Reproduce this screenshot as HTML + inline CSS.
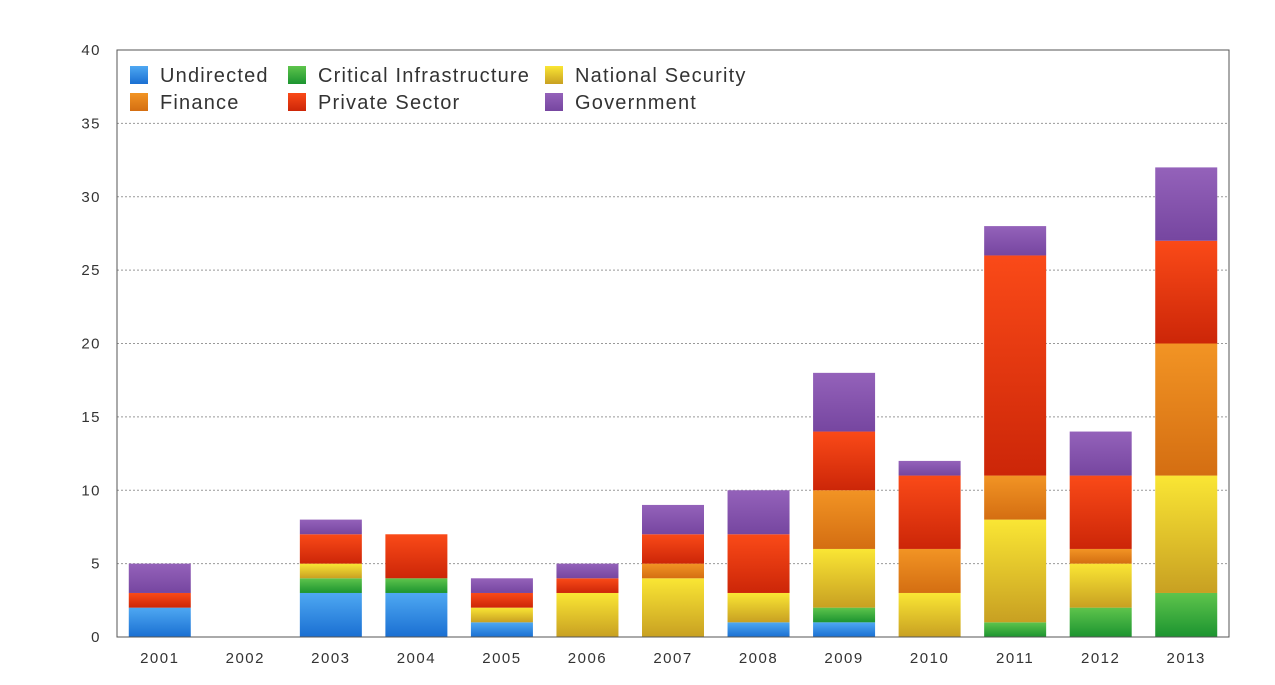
<!DOCTYPE html>
<html><head><meta charset="utf-8"><style>
html,body{margin:0;padding:0;background:#fff;}
svg{display:block;font-family:"Liberation Sans",sans-serif;}
</style></head><body>
<svg id="chart" width="1275" height="685" xmlns="http://www.w3.org/2000/svg">
<defs>
<linearGradient id="g0" x1="0" y1="0" x2="0" y2="1"><stop offset="0" stop-color="#4ea8f2"/><stop offset="1" stop-color="#1a6fd2"/></linearGradient>
<linearGradient id="g1" x1="0" y1="0" x2="0" y2="1"><stop offset="0" stop-color="#5ec44c"/><stop offset="1" stop-color="#1c9430"/></linearGradient>
<linearGradient id="g2" x1="0" y1="0" x2="0" y2="1"><stop offset="0" stop-color="#fae634"/><stop offset="1" stop-color="#c8a022"/></linearGradient>
<linearGradient id="g3" x1="0" y1="0" x2="0" y2="1"><stop offset="0" stop-color="#f29424"/><stop offset="1" stop-color="#d46e12"/></linearGradient>
<linearGradient id="g4" x1="0" y1="0" x2="0" y2="1"><stop offset="0" stop-color="#fa4a18"/><stop offset="1" stop-color="#cc2608"/></linearGradient>
<linearGradient id="g5" x1="0" y1="0" x2="0" y2="1"><stop offset="0" stop-color="#9462ba"/><stop offset="1" stop-color="#7646a0"/></linearGradient>
</defs>
<g id="grid"></g><g id="bars"></g><g id="axes"></g><g id="legend"></g>
</svg>
<script>
const years=["2001","2002","2003","2004","2005","2006","2007","2008","2009","2010","2011","2012","2013"];
const undirected=[2,0,3,3,1,0,0,1,1,0,0,0,0];
const critical=[0,0,1,1,0,0,0,0,1,0,1,2,3];
const national=[0,0,1,0,1,3,4,2,4,3,7,3,8];
const finance=[0,0,0,0,0,0,1,0,4,3,3,1,9];
const privateSector=[1,0,2,3,1,1,2,4,4,5,15,5,7];
const government=[2,0,1,0,1,1,2,3,4,1,2,3,5];
const seriesNames=["Undirected","Critical Infrastructure","National Security","Finance","Private Sector","Government"];
const yTicks=[0,5,10,15,20,25,30,35,40];

const NS="http://www.w3.org/2000/svg";
const series=[undirected,critical,national,finance,privateSector,government];
const L=117,R=1229,T=50,B=637,yMax=40;
const step=(R-L)/years.length, bw=62;
function y(v){return B-(v/yMax)*(B-T);}
function xc(i){return L+step*(i+0.5);}
function mk(tag,attrs,parent){const e=document.createElementNS(NS,tag);for(const k in attrs)e.setAttribute(k,attrs[k]);parent.appendChild(e);return e;}
const grid=document.getElementById('grid'),bars=document.getElementById('bars'),axes=document.getElementById('axes'),legend=document.getElementById('legend');

yTicks.forEach(t=>{
  if(t>0&&t<yMax){const g=mk('line',{x1:L,x2:R,y1:y(t),y2:y(t),stroke:'#999','stroke-dasharray':'2,2','stroke-width':1},grid);
  
  }
  const tx=mk('text',{x:101,y:y(t)+5,'text-anchor':'end','font-size':15,fill:'#333','letter-spacing':'1.5'},axes);
  tx.textContent=t;
  
  
});
const frame=mk('rect',{x:L,y:T,width:R-L,height:B-T,fill:'none',stroke:'#555','stroke-width':1},axes);



years.forEach((yr,i)=>{
  let acc=0;
  series.forEach((s,k)=>{
    const v=s[i]; if(!v)return;
    const r=mk('rect',{x:xc(i)-bw/2,y:y(acc+v),width:bw,height:y(acc)-y(acc+v),fill:'url(#g'+k+')'},bars);
    
    
    acc+=v;
  });
  const tx=mk('text',{x:xc(i),y:663,'text-anchor':'middle','font-size':15,fill:'#333','letter-spacing':'1.5'},axes);
  tx.textContent=yr;
  
  
});

const lx=[130,288,545], ly=[66,93];
const order=[[0,1,2],[3,4,5]];
order.forEach((row,ri)=>row.forEach((k,ci)=>{
  const g=mk('g',{},legend);
  
  
  mk('rect',{x:lx[ci],y:ly[ri],width:18,height:18,fill:'url(#g'+k+')'},g);
  const t=mk('text',{x:lx[ci]+30,y:ly[ri]+16,'font-size':20,fill:'#333','letter-spacing':'1.2'},g);
  t.textContent=seriesNames[k];
}));
</script>
</body></html>
